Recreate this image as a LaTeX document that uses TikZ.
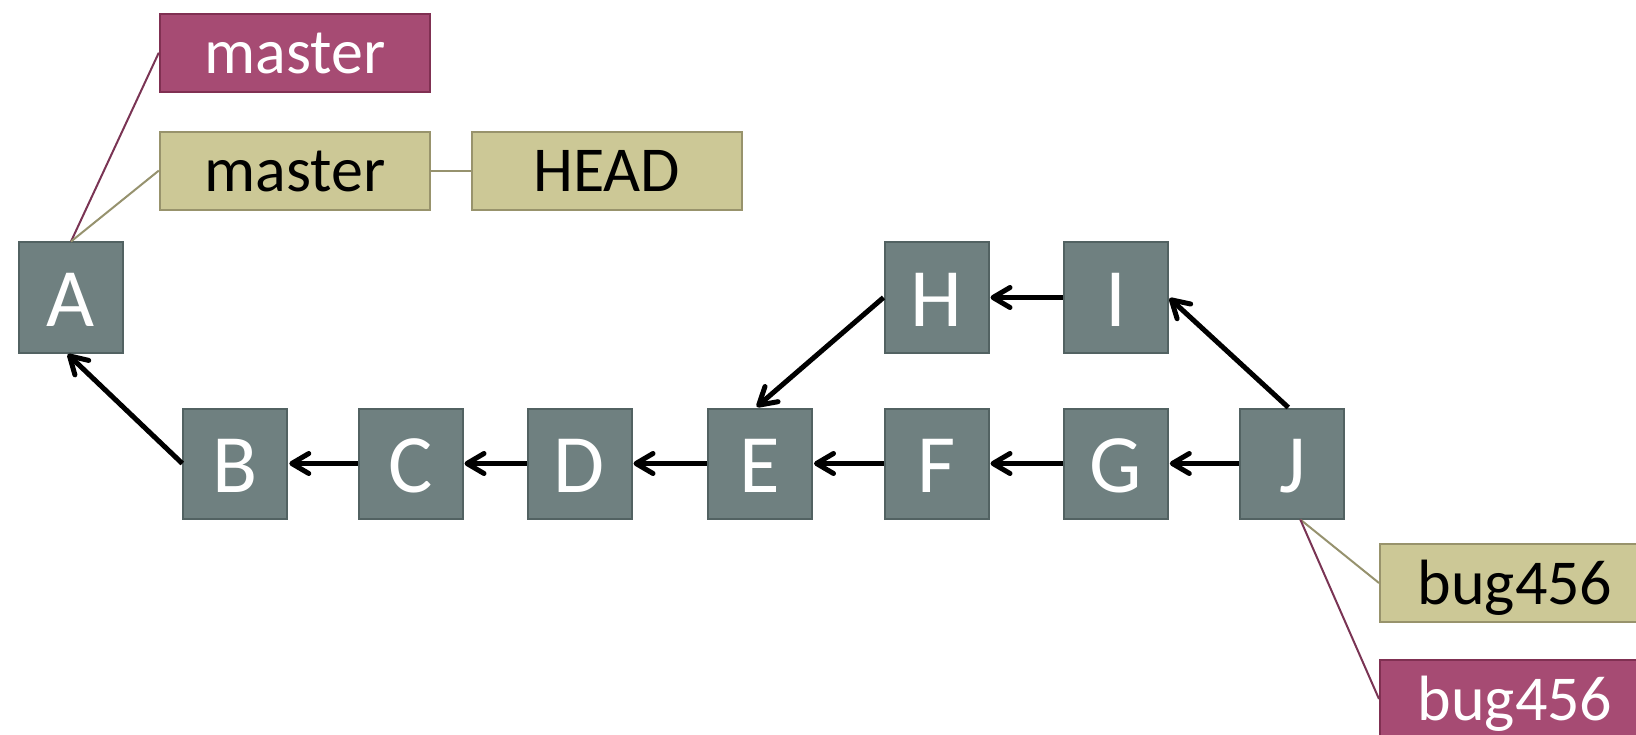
\documentclass[tikz,border=0pt]{standalone}
\usepackage{fontspec}
\setmainfont{Carlito}
\usetikzlibrary{arrows.meta}
\definecolor{commitfill}{RGB}{111,128,128}
\definecolor{commitborder}{RGB}{82,98,98}
\definecolor{purplefill}{RGB}{166,75,115}
\definecolor{purpleborder}{RGB}{128,48,82}
\definecolor{purpleline}{RGB}{122,52,84}
\definecolor{tanfill}{RGB}{204,200,150}
\definecolor{tanborder}{RGB}{152,147,108}
\definecolor{tanline}{RGB}{150,146,110}
\tikzset{
  commit/.style={draw=commitborder, line width=2pt, fill=commitfill, text=white,
    minimum width=104pt, minimum height=110pt, inner sep=0pt,
    text height=84pt, text depth=26pt, font=\fontsize{83}{90}\selectfont},
  lbl/.style={line width=2pt, minimum width=270pt, minimum height=78pt,
    inner xsep=0pt, inner ysep=0pt, text height=60pt, text depth=18pt,
    font=\fontsize{64}{70}\selectfont},
  redlbl/.style={lbl, draw=purpleborder, fill=purplefill, text=white},
  tanlbl/.style={lbl, draw=tanborder, fill=tanfill, text=black},
  parent/.style={line width=5pt, shorten >=1pt,
    -{Straight Barb[length=17pt,width=20pt,line cap=round,line join=round]}},
  redlink/.style={draw=purpleline, line width=2pt},
  tanlink/.style={draw=tanline, line width=2pt}
}
\begin{document}
\begin{tikzpicture}[x=1pt,y=-1pt]
\useasboundingbox (0,0) rectangle (1636,735);
\clip (0,0) rectangle (1636,735);
% commits
\node[commit] (A) at (71,297.5) {A};
\node[commit] (B) at (235.3,463.5) {B};
\node[commit] (C) at (410.5,463.5) {C};
\node[commit] (D) at (579.5,463.5) {D};
\node[commit] (E) at (760,463.5) {E};
\node[commit] (F) at (936.5,463.5) {F};
\node[commit] (G) at (1115.8,463.5) {G};
\node[commit] (J) at (1292.3,463.5) {J};
\node[commit] (H) at (936.5,297.5) {H};
\node[commit] (I) at (1115.8,297.5) {I};
% labels
\node[redlbl] (mr) at (294.8,52.7) {master};
\node[tanlbl] (mt) at (294.8,170.6) {master};
\node[tanlbl] (head) at (606.8,170.6) {HEAD};
\node[tanlbl] (bt) at (1515,583) {bug456};
\node[redlbl] (br) at (1515,699) {bug456};
% label links
\draw[redlink] (A.north) -- (mr.west);
\draw[tanlink] (A.north) -- (mt.west);
\draw[tanlink] (mt.east) -- (head.west);
\draw[tanlink] ([xshift=8pt]J.south) -- (bt.west);
\draw[redlink] ([xshift=8pt]J.south) -- (br.west);
% parent arrows
\draw[parent] (B.west) -- ([xshift=-4pt]A.south);
\draw[parent] (C.west) -- (B.east);
\draw[parent] (D.west) -- (C.east);
\draw[parent] (E.west) -- (D.east);
\draw[parent] (F.west) -- (E.east);
\draw[parent] (G.west) -- (F.east);
\draw[parent] (J.west) -- (G.east);
\draw[parent] (H.west) -- ([xshift=-4pt]E.north);
\draw[parent] (I.west) -- (H.east);
\draw[parent] ([xshift=-4pt]J.north) -- (I.east);
\end{tikzpicture}
\end{document}
